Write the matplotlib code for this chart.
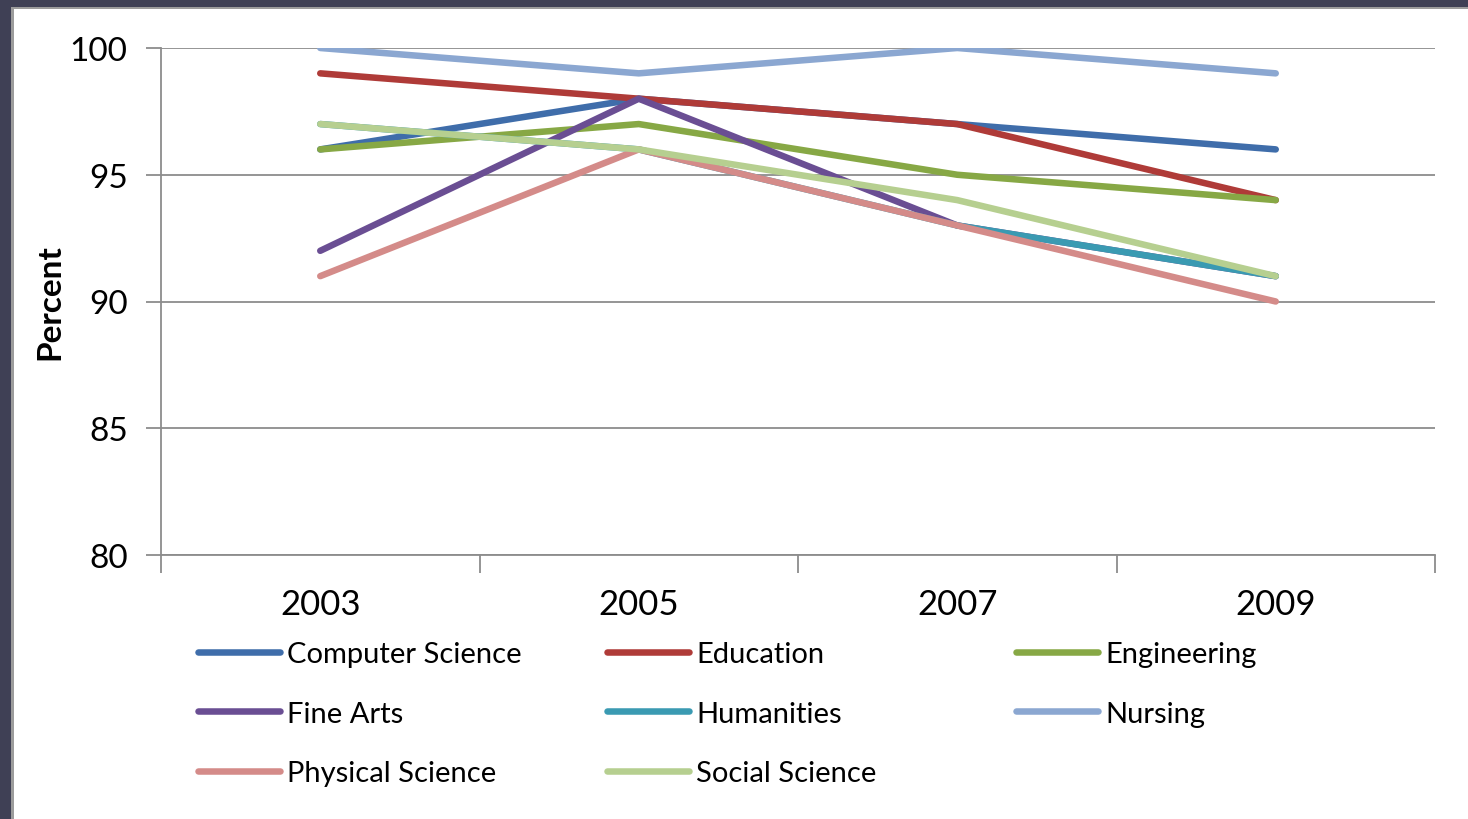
import matplotlib.pyplot as plt
from matplotlib.patches import Rectangle

plt.rcParams['font.family'] = ['Lato', 'DejaVu Sans']

years = ["2003", "2005", "2007", "2009"]

computer_science = [96, 98, 97, 96]
education = [99, 98, 97, 94]
engineering = [96, 97, 95, 94]
fine_arts = [92, 98, 93, 91]
humanities = [97, 96, 93, 91]
nursing = [100, 99, 100, 99]
physical_science = [91, 96, 93, 90]
social_science = [97, 96, 94, 91]

series = [
    ("Computer Science", computer_science, "#3F6DAA"),
    ("Education", education, "#AF3B38"),
    ("Engineering", engineering, "#87A845"),
    ("Fine Arts", fine_arts, "#6A4E93"),
    ("Humanities", humanities, "#3A9AB2"),
    ("Nursing", nursing, "#8BA7D1"),
    ("Physical Science", physical_science, "#D48B89"),
    ("Social Science", social_science, "#B6CF90"),
]

fig = plt.figure(figsize=(14.68, 8.2), dpi=100)

# slide-style dark frame at the top and left
frame = "#3F4055"
fig.patches.append(Rectangle((0, 1 - 8 / 820), 1, 8 / 820, transform=fig.transFigure,
                             facecolor=frame, edgecolor="none", zorder=0))
fig.patches.append(Rectangle((0, 0), 11 / 1468, 1, transform=fig.transFigure,
                             facecolor=frame, edgecolor="none", zorder=0))
fig.patches.append(Rectangle((11 / 1468, 1 - 10 / 820), 1, 2 / 820, transform=fig.transFigure,
                             facecolor="#9C9C9C", edgecolor="none", zorder=0))
fig.patches.append(Rectangle((11 / 1468, 0), 3 / 1468, 1 - 8 / 820, transform=fig.transFigure,
                             facecolor="#9C9C9C", edgecolor="none", zorder=0))

ax = fig.add_axes([161 / 1468, 1 - 556 / 820, (1435 - 161) / 1468, (556 - 49) / 820])

x = list(range(len(years)))
handles = {}
for name, vals, color in series:
    (ln,) = ax.plot(x, vals, color=color, lw=4.7, solid_capstyle="round",
                    solid_joinstyle="round", label=name, zorder=3)
    handles[name] = ln

ax.set_xlim(-0.5, 3.5)
ax.set_ylim(80, 100)
ax.set_yticks([80, 85, 90, 95, 100])
ax.yaxis.grid(True, color="#8C8C8C", lw=1.3)
ax.set_axisbelow(True)

# category boundaries carry the tick marks, labels sit in the middle
ax.set_xticks([-0.5, 0.5, 1.5, 2.5, 3.5])
ax.set_xticklabels([])
ax.set_xticks(x, minor=True)
ax.set_xticklabels(years, minor=True, fontsize=25)
ax.tick_params(axis="x", which="major", length=13, width=1.3, color="#8C8C8C")
ax.tick_params(axis="x", which="minor", length=0, pad=24)
ax.tick_params(axis="y", length=11, width=1.3, color="#8C8C8C", labelsize=24, pad=13)

for side in ("top", "right"):
    ax.spines[side].set_visible(False)
for side in ("left", "bottom"):
    ax.spines[side].set_color("#8C8C8C")
    ax.spines[side].set_linewidth(1.3)

ax.set_ylabel("Percent", fontsize=24, fontweight="bold", labelpad=4)

columns = [
    ["Computer Science", "Fine Arts", "Physical Science"],
    ["Education", "Humanities", "Social Science"],
    ["Engineering", "Nursing"],
]
col_x = [198 / 1468, 607 / 1468, 1016 / 1468]
for names, cx in zip(columns, col_x):
    fig.legend([handles[n] for n in names], names, loc="upper left",
               bbox_to_anchor=(cx, 1 - 642 / 820), frameon=False,
               fontsize=21, handlelength=2.8, handletextpad=0.25,
               labelspacing=1.15, borderaxespad=0, borderpad=0)

fig.savefig("out.png", dpi=100)
